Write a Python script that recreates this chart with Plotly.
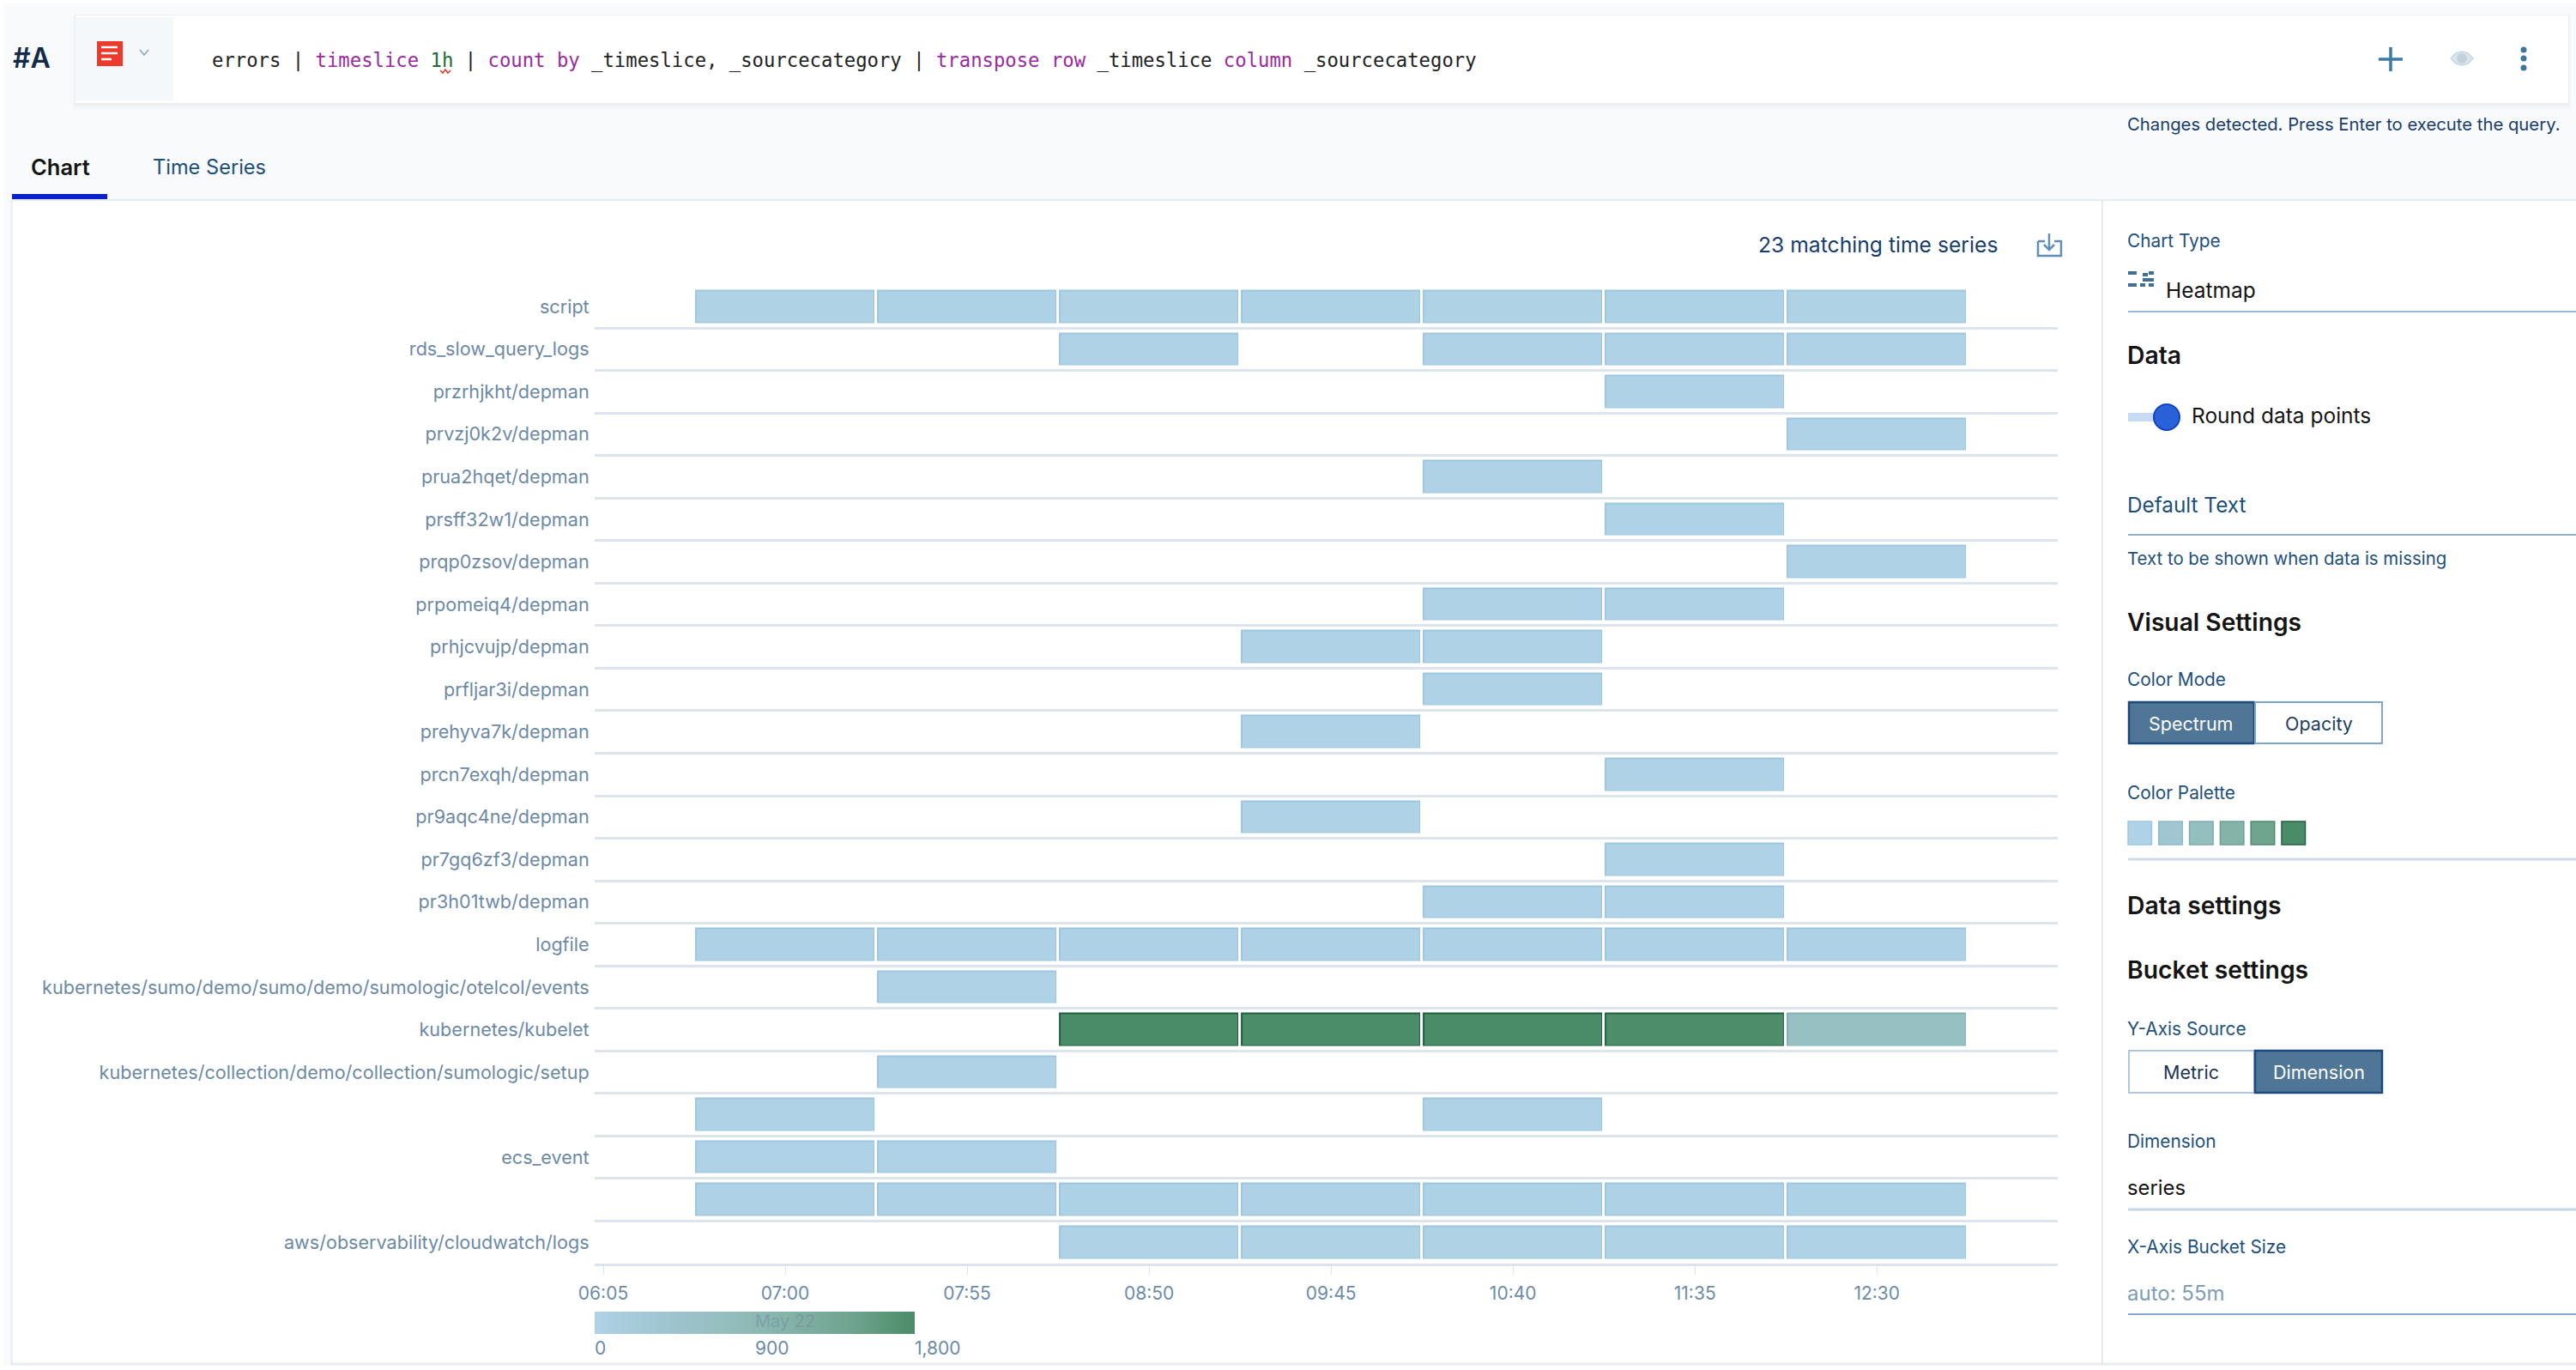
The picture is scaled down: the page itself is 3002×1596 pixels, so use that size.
import plotly.graph_objects as go

W, H = 3002, 1596

# time buckets (centres of the 55m cells) and axis ticks
slices = ["07:00", "07:55", "08:50", "09:45", "10:40", "11:35", "12:30"]
tick_labels = ["06:05", "07:00", "07:55", "08:50", "09:45", "10:40", "11:35", "12:30"]

series_labels = ["script", "rds_slow_query_logs", "przrhjkht/depman", "prvzj0k2v/depman",
                 "prua2hqet/depman", "prsff32w1/depman", "prqp0zsov/depman", "prpomeiq4/depman",
                 "prhjcvujp/depman", "prfljar3i/depman", "prehyva7k/depman", "prcn7exqh/depman",
                 "pr9aqc4ne/depman", "pr7gq6zf3/depman", "pr3h01twb/depman", "logfile",
                 "kubernetes/sumo/demo/sumo/demo/sumologic/otelcol/events", "kubernetes/kubelet",
                 "kubernetes/collection/demo/collection/sumologic/setup", "", "ecs_event", "",
                 "aws/observability/cloudwatch/logs"]

_ = None
counts = [
    [12, 14, 11, 13, 12, 15, 10],
    [_, _, 3, _, 4, 2, 3],
    [_, _, _, _, _, 2, _],
    [_, _, _, _, _, _, 2],
    [_, _, _, _, 1, _, _],
    [_, _, _, _, _, 2, _],
    [_, _, _, _, _, _, 1],
    [_, _, _, _, 2, 1, _],
    [_, _, _, 1, 2, _, _],
    [_, _, _, _, 1, _, _],
    [_, _, _, 2, _, _, _],
    [_, _, _, _, _, 1, _],
    [_, _, _, 1, _, _, _],
    [_, _, _, _, _, 2, _],
    [_, _, _, _, 1, 2, _],
    [20, 24, 22, 25, 21, 23, 19],
    [_, 4, _, _, _, _, _],
    [_, _, 1800, 1790, 1800, 1780, 640],
    [_, 3, _, _, _, _, _],
    [2, _, _, _, 3, _, _],
    [5, 4, _, _, _, _, _],
    [16, 18, 15, 17, 14, 16, 13],
    [_, _, 9, 11, 10, 12, 8],
]

palette = ["#AFD2E6", "#A0C6D2", "#95BEBF", "#84B3A8", "#6FA48F", "#4B8C68"]
edge_palette = ["#9CC7DF", "#8DBACB", "#7DAEB0", "#6A9F94", "#4F8A70", "#1F5F3F"]
scale_ticks = [0, 900, 1800]
scale_text = ["0", "900", "1,800"]

plot_l, plot_r, plot_t, plot_b = 693, 2398, 332.5, 1472
cb_l, cb_len, cb_t, cb_h = 693, 373, 1528, 26

NAVY = "#1D4F7C"
BLACK = "#141414"
SANS = "Inter"
dates = ["2024-05-22 " + t for t in slices]
row_ids = list(range(len(series_labels)))


def stops(colors):
    return [[i / (len(colors) - 1), c] for i, c in enumerate(colors)]


fig = go.Figure()
# darker lower layer shows as the thin edge of every cell
fig.add_trace(go.Heatmap(z=counts, x=dates, y=row_ids, zmin=0, zmax=1800, colorscale=stops(edge_palette),
                         xgap=3, ygap=11, showscale=False, hoverongaps=False))
fig.add_trace(go.Heatmap(z=counts, x=dates, y=row_ids, zmin=0, zmax=1800, colorscale=stops(palette),
                         xgap=6, ygap=14, hoverongaps=False,
                         colorbar=dict(orientation="h", lenmode="pixels", len=cb_len, thicknessmode="pixels",
                                       thickness=cb_h, x=cb_l / W, xanchor="left", y=1 - (cb_t + cb_h) / H,
                                       yanchor="bottom", xpad=0, ypad=0, outlinewidth=0, tickvals=scale_ticks,
                                       showticklabels=False, ticks="")))

shapes = []
annotations = []


def rect(x0, y0, x1, y1, fill, line=None, lw=1):
    shapes.append(dict(type="rect", xref="paper", yref="paper", x0=x0 / W, x1=x1 / W, y0=1 - y0 / H, y1=1 - y1 / H,
                       fillcolor=fill, line=dict(color=line or fill, width=lw if line else 0), layer="below"))


def hline(x0, x1, y, color, lw=2):
    rect(x0, y - lw / 2, x1, y + lw / 2, color)


def path(d, color=None, fill=None, lw=2.5):
    # d is a list of (x, y) pixel points
    s = "M" + " L".join(f"{x / W:.5f},{1 - y / H:.5f}" for x, y in d)
    shapes.append(dict(type="path", xref="paper", yref="paper", path=s, fillcolor=fill or "rgba(0,0,0,0)",
                       line=dict(color=color or "rgba(0,0,0,0)", width=lw), layer="above"))


def circle(cx, cy, r, fill, line=None, lw=0):
    shapes.append(dict(type="circle", xref="paper", yref="paper", x0=(cx - r) / W, x1=(cx + r) / W,
                       y0=1 - (cy + r) / H, y1=1 - (cy - r) / H, fillcolor=fill,
                       line=dict(color=line or fill, width=lw), layer="above"))


def label(x, y, text, size=20.8, color=NAVY, weight=400, anchor="left", family=SANS):
    annotations.append(dict(xref="paper", yref="paper", x=x / W, y=1 - y / H, text=text, showarrow=False,
                            xanchor=anchor, yanchor="middle", borderpad=0, borderwidth=0,
                            font=dict(family=family, size=size, color=color, weight=weight)))


# page background, query bar, panels
rect(4, 4, W, 1590, "#F9FAFB")
rect(85, 17, 2996, 127, "#F3F5F7")
rect(87, 17, 2994, 123, "#ECEFF2")
rect(88, 18, 2993, 120, "#FFFFFF")
rect(88, 20, 202, 117, "#F4F8FB")
rect(14, 233, W, 1589, "#FFFFFF")
hline(14, W, 233, "#E8ECF1", 2)
rect(12, 233, 15, 1589, "#EDF1F5")
hline(12, W, 1589, "#E8ECF1", 3)
rect(2449, 233, 2451, 1589, "#E6EBF1")

# header row
label(15, 68, "#A", 32, "#122B4A", 600)
rect(113, 48, 143, 77, "#EE3A2B")
for yy, xr in [(55, 137), (62, 137), (69, 130)]:
    hline(118, xr, yy, "#FFFFFF", 2.5)
path([(163, 58), (168, 64), (173, 58)], "#8FA6BC", lw=1.5)
P = '<span style="color:#9A2A9E">%s</span>'
code = ("errors | " + P % "timeslice" + ' <span style="color:#1B6B3A">1h</span> | ' + P % "count by"
        + " _timeslice, _sourcecategory | " + P % "transpose row" + " _timeslice " + P % "column"
        + " _sourcecategory")
label(247, 70, code, 22.25, "#222222", family="DejaVu Sans Mono")
path([(513, 82), (516, 85), (519, 81), (522, 85), (525, 82)], "#E5352B", lw=1.5)

path([(2772, 69), (2800, 69)], "#3B7BA5", lw=3.5)
path([(2786, 55), (2786, 83)], "#3B7BA5", lw=3.5)
path([(2856, 68), (2862, 62), (2869, 60), (2876, 62), (2882, 68), (2876, 74), (2869, 76), (2862, 74), (2856, 68)],
     "#C9D6E2", fill="#DDE5EC", lw=1.5)
circle(2869, 68, 6, "#C3D1DE")
for yy in [58, 68, 79]:
    circle(2941, yy, 3.5, "#3B779F")
label(2479, 145, "Changes detected. Press Enter to execute the query.", 20.3, "#163D6B")

# tabs
label(36, 195, "Chart", 25.5, BLACK, 600)
label(178, 195, "Time Series", 23.6, NAVY)
rect(14, 226, 125, 232, "#0A22CC")

label(2049, 285, "23 matching time series", 24.7, "#163D6B")
path([(2375, 281), (2375, 298), (2402, 298), (2402, 281), (2394, 281)], "#5E8FB5", lw=2.5)
path([(2383, 281), (2375, 281)], "#5E8FB5", lw=2.5)
path([(2388, 272), (2388, 290)], "#5E8FB5", lw=2.5)
path([(2382, 285), (2388, 291), (2394, 285)], "#5E8FB5", lw=2.5)

# settings panel
label(2479, 280, "Chart Type")
for x0, x1, yy in [(2480, 2490, 318), (2497, 2503, 320), (2504, 2510, 318), (2497, 2510, 326), (2480, 2490, 332),
                   (2494, 2500, 332), (2504, 2510, 332)]:
    rect(x0, yy - 2, x1, yy + 2, "#3F6F94")
label(2524, 338, "Heatmap", 24.5, BLACK)
hline(2480, W, 363, "#9CB9D3", 2)

label(2479, 414, "Data", 28.3, BLACK, 600)
rect(2480, 481, 2510, 491, "#C8DBF5")
circle(2525, 486, 15, "#2961D8", "#1242C4", 2)
label(2554, 484, "Round data points", 24.5, BLACK)
label(2479, 588, "Default Text", 24.3)
hline(2480, W, 623, "#93B2CE", 2)
label(2479, 650, "Text to be shown when data is missing", 20.4)

label(2479, 725, "Visual Settings", 28.2, BLACK, 600)
label(2479, 791, "Color Mode")
rect(2481, 818, 2627, 866, "#4F7696", "#1C4A7E", 2.5)
rect(2628, 818, 2776, 866, "#FFFFFF", "#7FA6C6", 2)
label(2553, 843, "Spectrum", 21.5, "#FFFFFF", anchor="center")
label(2702, 843, "Opacity", 21.5, "#1D3E5E", anchor="center")

label(2479, 923, "Color Palette")
for i, (c, e) in enumerate(zip(palette, edge_palette)):
    x0 = 2480 + i * 35.8
    rect(x0, 957, x0 + 27.5, 984, c, e, 1.5)
hline(2480, W, 1001, "#CEDAE8", 3)

label(2479, 1055, "Data settings", 28.3, BLACK, 600)
label(2479, 1129.5, "Bucket settings", 28.3, BLACK, 600)
label(2479, 1198.5, "Y-Axis Source")
rect(2481, 1224, 2627, 1273, "#FFFFFF", "#B0C6DA", 2)
rect(2628, 1224, 2776, 1273, "#4F7696", "#1C4A7E", 2.5)
label(2553, 1249, "Metric", 21.5, "#1D3450", anchor="center")
label(2702, 1249, "Dimension", 21.5, "#FFFFFF", anchor="center")
label(2479, 1329.5, "Dimension")
label(2479, 1383, "series", 23.8, BLACK)
hline(2480, W, 1409, "#C7D5E5", 3)
label(2479, 1452, "X-Axis Bucket Size")
label(2479, 1506, "auto: 55m", 24, "#7F9DB5")
hline(2480, W, 1531, "#86A9C9", 2)

# colour bar labels sit just right of their stops; the faint date is behind the bar
for v, t in zip(scale_ticks, scale_text):
    label(cb_l + cb_len * v / scale_ticks[-1], 1570, t, 21, "#6C8BA7")
label(915, 1539, "May 22", 20, "rgba(110,130,160,0.45)", anchor="center")

fig.update_layout(
    width=W, height=H,
    margin=dict(l=0, r=0, t=0, b=0, autoexpand=False),
    paper_bgcolor="#FFFFFF", plot_bgcolor="rgba(0,0,0,0)",
    font=dict(family=SANS, size=21, color="#6C89A5"),
    shapes=shapes,
    annotations=annotations,
    xaxis=dict(type="date", domain=[plot_l / W, plot_r / W],
               range=["2024-05-22 06:02:24", "2024-05-22 13:24:40"],
               tickvals=["2024-05-22 " + t for t in tick_labels], ticktext=tick_labels,
               showgrid=False, zeroline=False, showline=True, linecolor="#DDE4EB", linewidth=3,
               ticks="outside", ticklen=10, tickcolor="#DDE4EB", tickwidth=1, ticklabelstandoff=4,
               tickfont=dict(family=SANS, size=21, color="#6C8BA7")),
    yaxis=dict(domain=[1 - plot_b / H, 1 - plot_t / H], range=[len(row_ids) - 0.5, -0.5],
               tickvals=row_ids, ticktext=series_labels, showgrid=False, zeroline=False,
               ticks="outside", ticklen=1, tickcolor="rgba(0,0,0,0)",
               minor=dict(tickvals=[i + 0.5 for i in row_ids[:-1]], showgrid=True, gridcolor="#DDE4EB", gridwidth=3,
                          ticks=""),
               tickfont=dict(family=SANS, size=21.6, color="#6C89A5")),
)

fig.write_html("out.html", config={"displayModeBar": False}, post_script="document.body.style.margin='0';")
